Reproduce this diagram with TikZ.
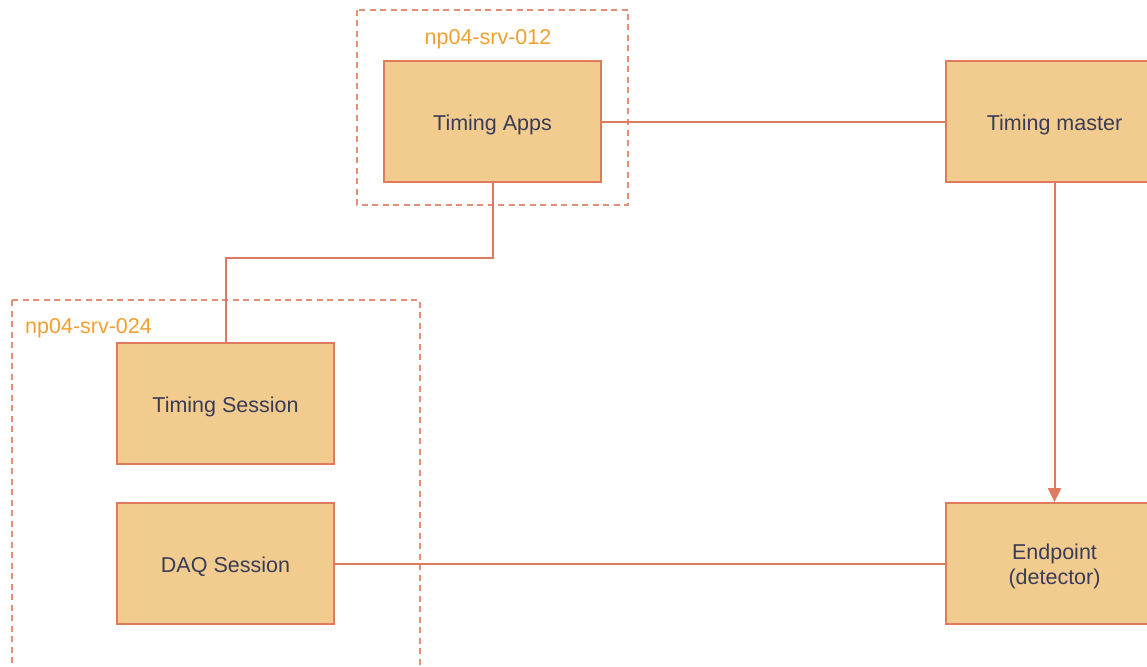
\documentclass[tikz,border=0pt]{standalone}
\usepackage{fontspec}
\setmainfont{Liberation Sans}
\usetikzlibrary{arrows.meta}
\definecolor{boxfill}{HTML}{F2CC8F}
\definecolor{boxline}{HTML}{E07A5F}
\definecolor{boxtext}{HTML}{393C56}
\definecolor{hostlabel}{HTML}{F0A030}
% lower a label inside its box while keeping the box's measured size
\newcommand\txtdown[1]{\raisebox{-3pt}[\height][\depth]{#1}}
\tikzset{
  x=1pt, y=-1pt,
  comp/.style={draw=boxline, fill=boxfill, line width=1.8pt, minimum width=217pt,
    minimum height=121pt, inner sep=0pt, text=boxtext,
    font=\fontsize{21.5}{25}\selectfont},
  host/.style={draw=boxline!85, line width=1.3pt, dash pattern=on 6pt off 4.5pt},
  hostname/.style={text=hostlabel, font=\fontsize{21.5}{25}\selectfont, inner sep=0pt},
  link/.style={draw=boxline, line width=2pt},
}
\begin{document}
\begin{tikzpicture}
\useasboundingbox (0,0) rectangle (1147,666);
\begin{scope}
\clip (0,0) rectangle (1147,666);
% host frames
\draw[host] (357,10) rectangle (628,205);
\draw[host] (12,300) -- (12,680) (12,300) -- (420,300) -- (420,680);
\node[hostname] (h012) at (488,39.5) {np04-srv-012};
\node[hostname, anchor=west] (h024) at (25,328.5) {np04-srv-024};
% components
\node[comp] (apps) at (492.5,121.5) {\txtdown{Timing Apps}};
\node[comp] (master) at (1054.5,121.5) {\txtdown{Timing master}};
\node[comp] (tsess) at (225.5,403.5) {\txtdown{Timing Session}};
\node[comp] (daq) at (225.5,563.5) {\txtdown{DAQ Session}};
\node[comp] (endp) at (1054.5,563.5)
  {\txtdown{\begin{tabular}{@{}c@{}}Endpoint\\(detector)\end{tabular}}};
% connections
\draw[link] (apps.east) -- (master.west);
\draw[link, -{Triangle[length=14pt,width=13pt]}] (master.south) -- (endp.north);
\draw[link] (daq.east) -- (endp.west);
\draw[link] (apps.south) -- (492.5,258) -| (tsess.north);
\end{scope}
\end{tikzpicture}
\end{document}
